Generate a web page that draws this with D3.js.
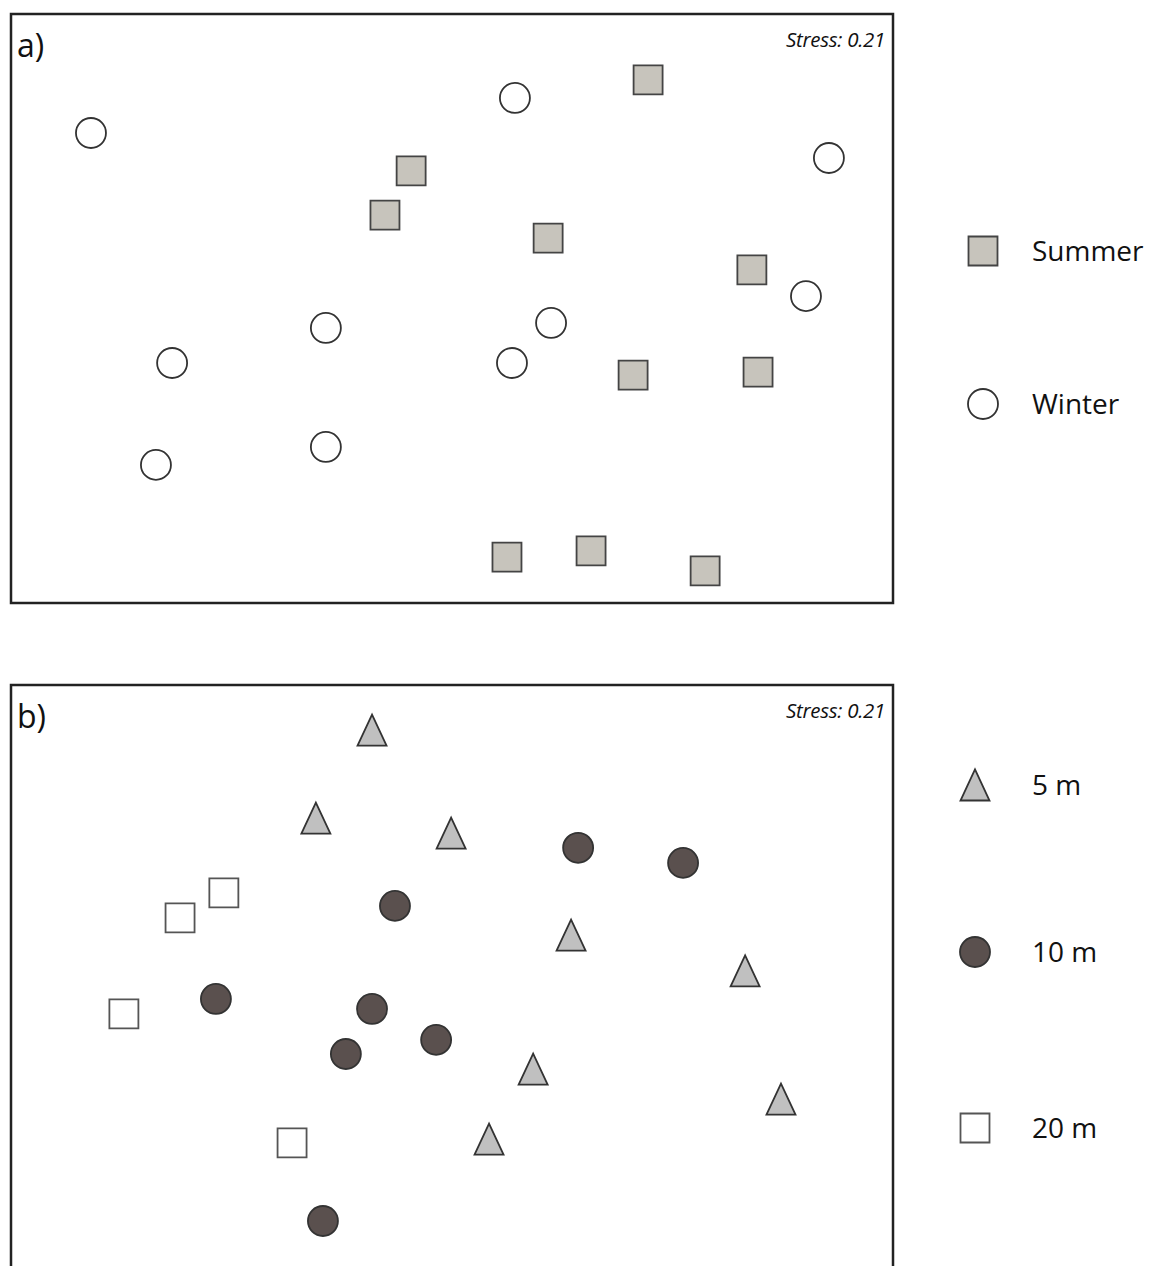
<!DOCTYPE html>
<html>
<head>
<meta charset="utf-8">
<script src="https://cdn.jsdelivr.net/npm/d3@7"></script>
<style>
  body { margin: 0; background: #fff; }
  text { font-family: "Open Sans", "DejaVu Sans", sans-serif; fill: #111; }
</style>
</head>
<body>
<svg width="1151" height="1266"></svg>
<script>
// NMDS ordination scores
// panel a) season
var winterX = [-1.228, 0.214, 1.282, 1.204, -0.429, 0.337, -0.952, 0.204, -1.007, -0.429];
var winterY = [0.596, 0.715, 0.511, 0.042, -0.066, -0.049, -0.185, -0.185, -0.531, -0.470];
var summerX = [0.667, -0.139, -0.228, 0.327, 1.020, 0.616, 1.041, 0.187, 0.473, 0.861];
var summerY = [0.776, 0.467, 0.317, 0.239, 0.131, -0.226, -0.216, -0.844, -0.823, -0.891];

// panel b) depth
var m5X = [-0.272, -0.463, -0.003, 0.405, 0.997, 0.276, 1.119, 0.126];
var m5Y = [0.847, 0.548, 0.497, 0.151, 0.029, -0.304, -0.406, -0.542];
var m10X = [0.429, 0.786, -0.194, -0.803, -0.272, -0.054, -0.361, -0.439];
var m10Y = [0.447, 0.396, 0.250, -0.066, -0.100, -0.205, -0.253, -0.820];
var m20X = [-0.776, -0.925, -1.116, -0.544];
var m20Y = [0.294, 0.209, -0.117, -0.555];

var stressLabel = 'Stress: 0.21';

var svg = d3.select('svg');

var panelW = 882, panelH = 589;
var x = d3.scaleLinear().domain([-1.5, 1.5]).range([0, panelW]);
var y = d3.scaleLinear().domain([-1, 1]).range([panelH, 0]);

// slightly taller-than-wide triangle, centred on its bounding box
var tallTriangle = {
  draw: function(ctx, size) {
    var w = Math.sqrt(size), h = w * 1.07;
    ctx.moveTo(0, -h / 2);
    ctx.lineTo(w / 2, h / 2);
    ctx.lineTo(-w / 2, h / 2);
    ctx.closePath();
  }
};

var shapes = {
  square: {type: d3.symbolSquare, size: 29 * 29},
  circle: {type: d3.symbolCircle, size: Math.PI * 15 * 15},
  triangle: {type: tallTriangle, size: 29 * 29}
};

var styles = {
  summer: {shape: 'square', fill: '#c7c4bc', stroke: '#444'},
  winter: {shape: 'circle', fill: '#fff', stroke: '#333'},
  m5: {shape: 'triangle', fill: '#c0c0c0', stroke: '#333'},
  m10: {shape: 'circle', fill: '#5a504e', stroke: '#333'},
  m20: {shape: 'square', fill: '#fff', stroke: '#555'}
};

var sym = key => {
  var s = shapes[styles[key].shape];
  return d3.symbol().type(s.type).size(s.size)();
};

var panels = [
  {label: 'a)', top: 14,
   groups: [{key: 'summer', name: 'Summer', xs: summerX, ys: summerY},
            {key: 'winter', name: 'Winter', xs: winterX, ys: winterY}],
   legendX: 983, legendY: [251, 404]},
  {label: 'b)', top: 685,
   groups: [{key: 'm5', name: '5 m', xs: m5X, ys: m5Y},
            {key: 'm10', name: '10 m', xs: m10X, ys: m10Y},
            {key: 'm20', name: '20 m', xs: m20X, ys: m20Y}],
   legendX: 975, legendY: [785, 952, 1128]}
];

panels.forEach((p, pi) => {
  var g = svg.append('g').attr('transform', `translate(11, ${p.top})`);

  g.append('rect')
    .attr('width', panelW)
    .attr('height', panelH)
    .attr('fill', 'none')
    .attr('stroke', '#222')
    .attr('stroke-width', 2.5);

  g.append('text')
    .attr('x', 6).attr('y', 43)
    .style('font-size', '32px')
    .text(p.label);

  g.append('text')
    .attr('x', panelW - 8).attr('y', 33)
    .attr('text-anchor', 'end')
    .style('font-size', '20.5px')
    .style('font-style', 'italic')
    .style('letter-spacing', '-0.3px')
    .text(stressLabel);

  p.groups.forEach(grp => {
    var st = styles[grp.key];
    var pts = grp.xs.map((v, i) => ({x: v, y: grp.ys[i]}));
    g.selectAll('.pt-' + grp.key)
      .data(pts)
      .enter()
      .append('path')
      .attr('class', 'pt-' + grp.key)
      .attr('d', sym(grp.key))
      .attr('transform', d => `translate(${x(d.x)}, ${y(d.y)})`)
      .attr('fill', st.fill)
      .attr('stroke', st.stroke)
      .attr('stroke-width', 1.8)
      .attr('stroke-linejoin', 'miter');
  });

  // legend
  var leg = svg.selectAll('.leg' + pi)
    .data(p.groups)
    .enter()
    .append('g')
    .attr('class', 'leg' + pi)
    .attr('transform', (d, i) => `translate(${p.legendX}, ${p.legendY[i]})`);

  leg.append('path')
    .attr('d', d => sym(d.key))
    .attr('fill', d => styles[d.key].fill)
    .attr('stroke', d => styles[d.key].stroke)
    .attr('stroke-width', 1.8);

  leg.append('text')
    .attr('x', 1032 - p.legendX)
    .attr('y', 10)
    .style('font-size', '28px')
    .text(d => d.name);
});
</script>
</body>
</html>
